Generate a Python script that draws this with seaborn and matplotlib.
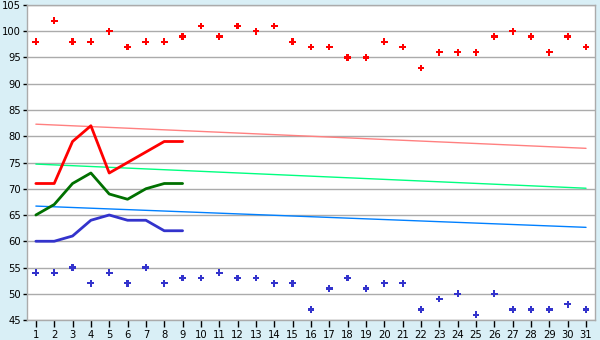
import matplotlib
matplotlib.use("Agg")
import matplotlib.pyplot as plt
import seaborn as sns
import pandas as pd

days = list(range(1, 32))
record_high = [98, 102, 98, 98, 100, 97, 98, 98, 99, 101, 99, 101, 100, 101, 98, 97,
               97, 95, 95, 98, 97, 93, 96, 96, 96, 99, 100, 99, 96, 99, 97]
record_low = [54, 54, 55, 52, 54, 52, 55, 52, 53, 53, 54, 53, 53, 52, 52, 47,
              51, 53, 51, 52, 52, 47, 49, 50, 46, 50, 47, 47, 47, 48, 47]

obs_days = list(range(1, 10))
actual_high = [71, 71, 79, 82, 73, 75, 77, 79, 79]
actual_mean = [65, 67, 71, 73, 69, 68, 70, 71, 71]
actual_low = [60, 60, 61, 64, 65, 64, 64, 62, 62]

normal_days = [1, 31]
normal_high = [82.3, 77.7]
normal_mean = [74.7, 70.1]
normal_low = [66.7, 62.65]

yticks = list(range(45, 106, 5))

sns.set_theme(style="white")
plt.rcParams['font.family'] = ['DejaVu Sans']

fig = plt.figure(figsize=(6, 3.4), dpi=100, facecolor="#d9eff6")
ax = fig.add_axes([0.0445, 0.0588, 0.9475, 0.9265])
ax.set_facecolor("white")

for y in yticks:
    ax.axhline(y, color="#ababab", lw=1.0, zorder=0)

sns.lineplot(x=normal_days, y=normal_high, color="#ff8080", lw=1.0, ax=ax)
sns.lineplot(x=normal_days, y=normal_mean, color="#00ff80", lw=1.0, ax=ax)
sns.lineplot(x=normal_days, y=normal_low, color="#0080ff", lw=1.0, ax=ax)

sns.lineplot(x=obs_days, y=actual_high, color="#ff0000", lw=2.0, ax=ax)
sns.lineplot(x=obs_days, y=actual_mean, color="#007000", lw=2.0, ax=ax)
sns.lineplot(x=obs_days, y=actual_low, color="#3333cc", lw=2.0, ax=ax)

sns.scatterplot(x=days, y=record_high, marker="P", s=24, color="#ff0000",
                edgecolor="none", ax=ax, zorder=5)
sns.scatterplot(x=days, y=record_low, marker="P", s=24, color="#3333cc",
                edgecolor="none", ax=ax, zorder=5)

ax.set_xlim(0.5, 31.5)
ax.set_ylim(45, 105)
ax.set_xticks(days)
ax.set_xticklabels([str(d) for d in days])
ax.set_yticks(yticks)
ax.set_yticklabels([str(y) for y in yticks])
ax.tick_params(axis="both", labelsize=7.2, colors="black", width=1,
               direction="out")
ax.tick_params(axis="x", bottom=True, length=5, pad=2)
ax.tick_params(axis="y", left=True, length=3, pad=1)
for side in ["left", "bottom", "right", "top"]:
    ax.spines[side].set_visible(True)
    ax.spines[side].set_color("#ababab")
    ax.spines[side].set_linewidth(1.0)
ax.set_xlabel("")
ax.set_ylabel("")

fig.savefig("out.png", dpi=100, facecolor=fig.get_facecolor())
